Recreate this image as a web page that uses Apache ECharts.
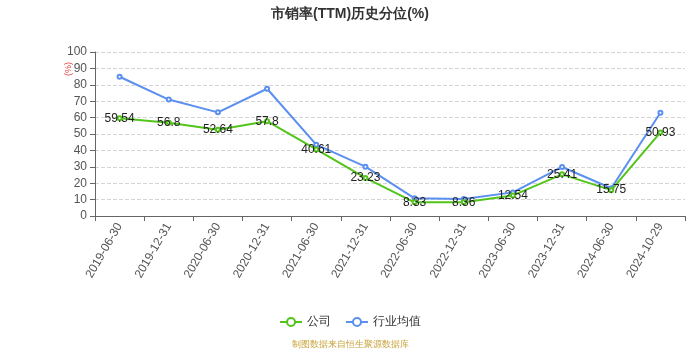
<!DOCTYPE html>
<html>
<head>
<meta charset="utf-8">
<script src="https://cdn.jsdelivr.net/npm/echarts@6/dist/echarts.min.js"></script>
<style>html,body{margin:0;padding:0;background:#fff}#chart{width:700px;height:350px}</style>
</head>
<body>
<div id="chart"></div>
<script>
// 报告期
const categories = ['2019-06-30','2019-12-31','2020-06-30','2020-12-31','2021-06-30','2021-12-31','2022-06-30','2022-12-31','2023-06-30','2023-12-31','2024-06-30','2024-10-29'];
// 公司市销率历史分位(%)
const companyValues = [59.54, 56.8, 52.64, 57.8, 40.61, 23.23, 8.33, 8.36, 12.54, 25.41, 15.75, 50.93];
// 行业均值历史分位(%)
const industryValues = [84.9, 71.0, 63.2, 77.6, 43.5, 30.1, 10.8, 10.3, 14.4, 29.9, 16.9, 63.0];
const yTicks = { min: 0, max: 100, interval: 10 };

const chart = echarts.init(document.getElementById('chart'));
chart.setOption({
  animation: false,
  backgroundColor: '#fff',
  title: {
    text: '市销率(TTM)历史分位(%)',
    left: 'center',
    top: 2,
    textStyle: { fontSize: 14, fontWeight: 'bold', color: '#333' }
  },
  legend: {
    bottom: 17,
    left: 'center',
    itemGap: 14,
    itemWidth: 22,
    itemHeight: 10,
    textStyle: { fontSize: 12, color: '#333' },
    data: ['公司', '行业均值']
  },
  graphic: [
    {
      type: 'text',
      left: 'center',
      bottom: 1,
      style: { text: '制图数据来自恒生聚源数据库', fill: '#c9a33c', fontSize: 9 }
    },
    {
      // y 轴单位
      type: 'text',
      x: 64,
      y: 76,
      rotation: Math.PI / 2,
      style: { text: '(%)', fill: '#e83a3a', fontSize: 9 }
    }
  ],
  grid: { left: 95, right: 15, top: 52, bottom: 134 },
  xAxis: {
    type: 'category',
    data: categories,
    boundaryGap: true,
    axisLine: { lineStyle: { color: '#666' } },
    axisTick: { show: true, lineStyle: { color: '#666' } },
    axisLabel: { rotate: 60, color: '#555', fontSize: 12, interval: 0, margin: 8 }
  },
  yAxis: {
    type: 'value',
    min: yTicks.min,
    max: yTicks.max,
    interval: yTicks.interval,
    axisLine: { show: true, lineStyle: { color: '#666' } },
    axisTick: { show: true, lineStyle: { color: '#666' } },
    axisLabel: { color: '#555', fontSize: 12 },
    splitLine: { lineStyle: { type: 'dashed', color: '#d4d4d4' } }
  },
  series: [
    {
      name: '公司',
      type: 'line',
      data: companyValues,
      symbol: 'emptyCircle',
      symbolSize: 4,
      itemStyle: { color: '#52c41a' },
      lineStyle: { width: 2, color: '#52c41a' },
      label: { show: true, position: 'inside', color: '#222', fontSize: 12 },
      z: 3
    },
    {
      name: '行业均值',
      type: 'line',
      data: industryValues,
      symbol: 'emptyCircle',
      symbolSize: 4,
      itemStyle: { color: '#5b8ff0' },
      lineStyle: { width: 2, color: '#5b8ff0' },
      z: 2
    }
  ]
});
</script>
</body>
</html>
